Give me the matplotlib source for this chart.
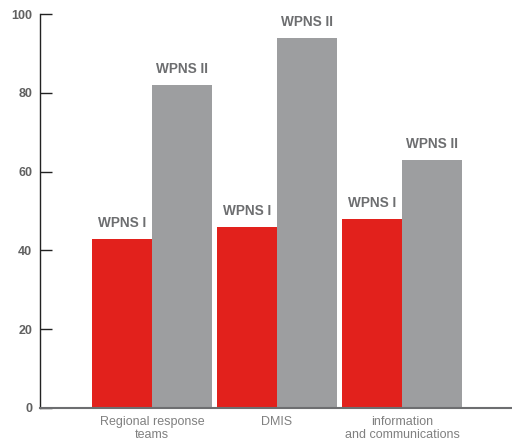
import numpy as np
import matplotlib
matplotlib.use("Agg")
from matplotlib import pyplot as plt

categories = ["Regional response\nteams", "DMIS", "information\nand communications"]
wpns_1 = [43, 46, 48]
wpns_2 = [82, 94, 63]
series_names = ["WPNS I", "WPNS II"]
y_ticks = [0, 20, 40, 60, 80, 100]

red = "#e2211c"
grey = "#9d9ea0"

fig = plt.figure(figsize=(5.12, 4.42), dpi=100)
ax = fig.add_axes([0.079, 0.077, 0.921, 0.891])

x = np.arange(len(categories))
w = 0.48
bars1 = ax.bar(x - w / 2, wpns_1, width=w, color=red, linewidth=0)
bars2 = ax.bar(x + w / 2, wpns_2, width=w, color=grey, linewidth=0)

label_font = dict(family="Liberation Sans", fontweight="bold", fontsize=9.8,
                  color="#6d6e70", ha="center", va="bottom", zorder=5)
for bars, name in [(bars1, series_names[0]), (bars2, series_names[1])]:
    for b in bars:
        ax.text(b.get_x() + b.get_width() / 2, b.get_height() + 2.2, name, **label_font)

ax.set_xlim(-0.892, 2.88)
ax.set_ylim(0, 100)
ax.set_yticks(y_ticks)
ax.set_yticklabels([str(t) for t in y_ticks], fontsize=9, fontweight="bold",
                   color="#606060", family="Liberation Sans")
ax.tick_params(axis="y", direction="in", length=8.5, width=1, pad=6, color="#222222")

ax.set_xticks(x)
ax.set_xticklabels(categories, fontsize=9, color="#808080", family="Liberation Sans",
                   linespacing=1.1)
ax.tick_params(axis="x", length=0, pad=6)

for s in ["top", "right"]:
    ax.spines[s].set_visible(False)
ax.spines["left"].set_color("#222222")
ax.spines["left"].set_linewidth(1)
ax.spines["bottom"].set_color("#6d6e70")
ax.spines["bottom"].set_linewidth(1.5)

fig.savefig("out.png", dpi=100)
